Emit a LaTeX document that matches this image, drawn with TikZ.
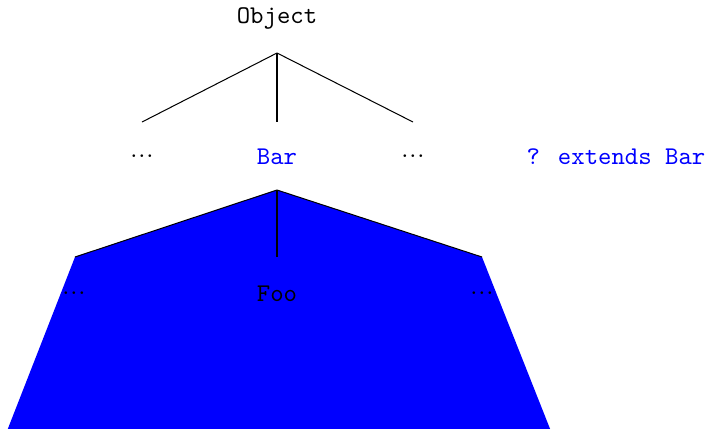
\documentclass[tikz,border=0pt]{standalone}
\newcommand\mydots{.\kern0.35pt.\kern0.35pt.}
\begin{document}
\begin{tikzpicture}[x=0.392pt,y=-0.392pt,
  lbl/.style={inner sep=1pt,font=\ttfamily},
  dts/.style={inner sep=1pt,font=\rmfamily},
  edge/.style={draw=black,line width=0.4pt}]
\useasboundingbox (0,0) rectangle (709,428);
\begin{scope}
\clip (0,0) rectangle (709,428);
\fill[blue] (277,190) -- (482,257) -- (560,454) -- (-2,454) -- (75,257) -- cycle;
\end{scope}
\node[lbl] (obj) at (277,18) {Object};
\coordinate (top) at (277,53);
\coordinate (l1) at (142,122);
\coordinate (m1) at (277,122);
\coordinate (r1) at (413,122);
\node[dts] (d1) at (142,156) {\mydots};
\node[lbl,text=blue] (bar) at (277,157) {Bar};
\node[dts] (d2) at (413,156) {\mydots};
\node[lbl,text=blue] (ext) at (616,157) {? extends Bar};
\draw[edge] (top) -- (l1);
\draw[edge] (top) -- (m1);
\draw[edge] (top) -- (r1);
\coordinate (top2) at (277,190);
\coordinate (l2) at (75,257);
\coordinate (m2) at (277,257);
\coordinate (r2) at (482,257);
\draw[edge] (top2) -- (l2);
\draw[edge] (top2) -- (m2);
\draw[edge] (top2) -- (r2);
\node[lbl] (foo) at (277,294) {Foo};
\node[dts] (d3) at (74,293) {\mydots};
\node[dts] (d4) at (482,293) {\mydots};
\end{tikzpicture}
\end{document}
